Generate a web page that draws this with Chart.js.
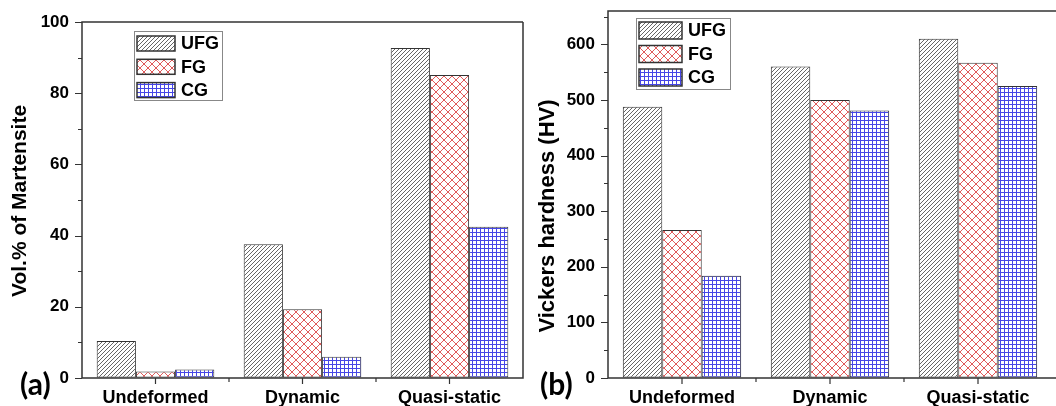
<!DOCTYPE html>
<html>
<head>
<meta charset="utf-8">
<title>Martensite fraction and Vickers hardness</title>
<script src="https://cdn.jsdelivr.net/npm/chart.js@4.4.0/dist/chart.umd.min.js"></script>
<style>
  html, body { margin: 0; padding: 0; background: #fff; overflow: hidden; }
  #wrap { position: relative; width: 1056px; height: 406px; overflow: hidden; }
  canvas { position: absolute; top: 0; }
  #chartA { left: 0; }
  #chartB { left: 528px; }
  .panel { position: absolute; font: bold 30px Lato, sans-serif; line-height: 30px; color: #000; }
</style>
</head>
<body>
<div id="wrap">
  <canvas id="chartA" width="530" height="406"></canvas>
  <canvas id="chartB" width="560" height="406"></canvas>
  <div class="panel" style="left:20px; top:368px">(a)</div>
  <div class="panel" style="left:540px; top:368px">(b)</div>
</div>
<script>
// Loading conditions and grain sizes
const categories = ['Undeformed', 'Dynamic', 'Quasi-static'];
const grainSizes = ['UFG', 'FG', 'CG'];

// (a) martensite volume fraction, %
const martensiteUFG = [10.4, 37.6, 92.7];
const martensiteFG = [1.8, 19.3, 85.1];
const martensiteCG = [2.4, 6.0, 42.5];

// (b) Vickers hardness, HV
const hardnessUFG = [488, 560, 610];
const hardnessFG = [266, 500, 567];
const hardnessCG = [184, 481, 525];

const FONT = "'Liberation Sans', Arial, sans-serif";

// Fill patterns: diagonal hatch, red cross-hatch, blue grid
function makePattern(kind) {
    let c = document.createElement('canvas');
    let size = kind === 'cross' ? 8 : 4;
    c.width = size;
    c.height = size;
    let g = c.getContext('2d');
    g.fillStyle = '#fff';
    g.fillRect(0, 0, size, size);
    g.lineWidth = 1;
    g.beginPath();
    if (kind === 'hatch') {
        g.strokeStyle = '#666';
        g.moveTo(0, size); g.lineTo(size, 0);
        g.moveTo(-1, 1); g.lineTo(1, -1);
        g.moveTo(size - 1, size + 1); g.lineTo(size + 1, size - 1);
    } else if (kind === 'cross') {
        g.strokeStyle = '#e05a5a';
        g.moveTo(0, size); g.lineTo(size, 0);
        g.moveTo(0, 0); g.lineTo(size, size);
    } else {
        g.strokeStyle = '#4646e6';
        g.moveTo(0, 0.5); g.lineTo(size, 0.5);
        g.moveTo(0.5, 0); g.lineTo(0.5, size);
    }
    g.stroke();
    return g.createPattern(c, 'repeat');
}

const fills = [makePattern('hatch'), makePattern('cross'), makePattern('grid')];

// Axis box with major/minor ticks pointing outwards, plus the rotated y title
const axisFrame = {
    id: 'axisFrame',
    afterDatasetsDraw(chart, args, opts) {
        const { ctx, chartArea: a, scales: { x, y } } = chart;
        const right = opts.closed ? a.right : chart.width;
        ctx.save();
        ctx.strokeStyle = '#333';
        ctx.lineWidth = 1.5;
        ctx.beginPath();
        ctx.moveTo(right, a.top);
        ctx.lineTo(a.left, a.top);
        ctx.lineTo(a.left, a.bottom);
        ctx.lineTo(right, a.bottom);
        if (opts.closed) ctx.lineTo(right, a.top);
        ctx.stroke();

        ctx.lineWidth = 1.2;
        ctx.beginPath();
        for (let i = 0; i * opts.minor <= y.max; i++) {
            let v = i * opts.minor;
            let py = Math.round(y.getPixelForValue(v)) + 0.5;
            let len = v % opts.major === 0 ? 7 : 4;
            ctx.moveTo(a.left - len, py);
            ctx.lineTo(a.left, py);
        }
        for (let i = 0; i < categories.length; i++) {
            let px = x.getPixelForValue(i);
            ctx.moveTo(px, a.bottom);
            ctx.lineTo(px, a.bottom + 6);
            if (i < categories.length - 1) {
                let mid = (px + x.getPixelForValue(i + 1)) / 2;
                ctx.moveTo(mid, a.bottom);
                ctx.lineTo(mid, a.bottom + 4);
            }
        }
        ctx.stroke();

        ctx.translate(opts.titleX, opts.titleY);
        ctx.rotate(-Math.PI / 2);
        ctx.font = 'bold ' + opts.titleSize + 'px ' + FONT;
        ctx.fillStyle = '#000';
        ctx.textAlign = 'center';
        ctx.textBaseline = 'middle';
        ctx.fillText(opts.title, 0, 0);
        ctx.restore();
    }
};

// Framed legend drawn inside the plot
const boxLegend = {
    id: 'boxLegend',
    afterDraw(chart, args, o) {
        const ctx = chart.ctx;
        ctx.save();
        ctx.strokeStyle = '#888';
        ctx.lineWidth = 1;
        ctx.strokeRect(o.x + 0.5, o.y + 0.5, o.w, o.h);
        ctx.font = 'bold 18px ' + FONT;
        ctx.textBaseline = 'middle';
        chart.data.datasets.forEach((ds, i) => {
            let top = o.y + o.pad + i * o.step;
            ctx.fillStyle = ds.backgroundColor;
            ctx.fillRect(o.x + 3, top, o.sw, o.sh);
            ctx.strokeStyle = '#333';
            ctx.lineWidth = 1.5;
            ctx.strokeRect(o.x + 3, top, o.sw, o.sh);
            ctx.fillStyle = '#000';
            ctx.fillText(ds.label, o.x + o.sw + 9, top + o.sh / 2 + 1);
        });
        ctx.restore();
    }
};

function makeChart(id, series, yOpts, frameOpts, legendOpts, pad) {
    return new Chart(document.getElementById(id), {
        type: 'bar',
        data: {
            labels: categories,
            datasets: series.map((values, i) => ({
                label: grainSizes[i],
                data: values,
                backgroundColor: fills[i],
                borderColor: '#333',
                borderWidth: 1,
                borderSkipped: false,
                categoryPercentage: 0.8,
                barPercentage: 1.0
            }))
        },
        options: {
            responsive: false,
            animation: false,
            layout: { padding: pad },
            plugins: {
                legend: { display: false },
                tooltip: { enabled: false },
                axisFrame: frameOpts,
                boxLegend: legendOpts
            },
            scales: {
                x: {
                    grid: { display: false, drawTicks: false, tickLength: 0 },
                    border: { display: false },
                    ticks: {
                        color: '#000',
                        padding: 9,
                        maxRotation: 0,
                        autoSkip: false,
                        font: { family: FONT, weight: 'bold', size: 18 }
                    },
                    afterFit: s => { s.height = 28; }
                },
                y: {
                    min: 0,
                    max: yOpts.max,
                    // invisible tick marks only push the labels away from the axis
                    grid: { display: true, drawOnChartArea: false, drawTicks: true,
                            tickLength: 13, tickColor: 'rgba(0,0,0,0)' },
                    border: { display: false },
                    ticks: {
                        stepSize: yOpts.step,
                        includeBounds: false,
                        color: '#000',
                        padding: 0,
                        font: { family: FONT, weight: 'bold', size: 17 }
                    },
                    afterFit: s => { s.width = yOpts.width; }
                }
            }
        },
        plugins: [axisFrame, boxLegend]
    });
}

let chartA = makeChart('chartA',
    [martensiteUFG, martensiteFG, martensiteCG],
    { max: 100, step: 20, width: 82 },
    { major: 20, minor: 10, closed: true,
      title: 'Vol.% of Martensite', titleX: 20, titleY: 201, titleSize: 21 },
    { x: 134, y: 31, w: 88, h: 69, pad: 5, step: 23.3, sw: 38, sh: 15 },
    { left: 0, top: 22, right: 7, bottom: 0 });

let chartB = makeChart('chartB',
    [hardnessUFG, hardnessFG, hardnessCG],
    { max: 660, step: 100, width: 80 },
    { major: 100, minor: 50, closed: false,
      title: 'Vickers hardness (HV)', titleX: 20, titleY: 216, titleSize: 22 },
    { x: 108, y: 18, w: 94, h: 71, pad: 4, step: 23.5, sw: 43, sh: 17 },
    { left: 0, top: 11, right: 36, bottom: 0 });
</script>
</body>
</html>
